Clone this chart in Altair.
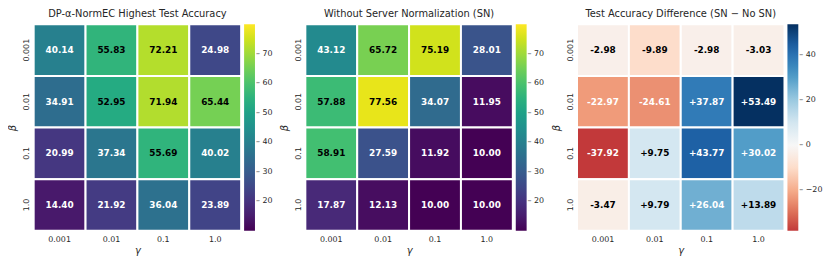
import altair as alt
import pandas as pd

betas = ["0.001", "0.01", "0.1", "1.0"]
gammas = ["0.001", "0.01", "0.1", "1.0"]

acc_normec = [
    [40.14, 55.83, 72.21, 24.98],
    [34.91, 52.95, 71.94, 65.44],
    [20.99, 37.34, 55.69, 40.02],
    [14.40, 21.92, 36.04, 23.89],
]
acc_no_sn = [
    [43.12, 65.72, 75.19, 28.01],
    [57.88, 77.56, 34.07, 11.95],
    [58.91, 27.59, 11.92, 10.00],
    [17.87, 12.13, 10.00, 10.00],
]
acc_diff = [
    [-2.98, -9.89, -2.98, -3.03],
    [-22.97, -24.61, 37.87, 53.49],
    [-37.92, 9.75, 43.77, 30.02],
    [-3.47, 9.79, 26.04, 13.89],
]

titles = [
    "DP-\u03b1-NormEC Highest Test Accuracy",
    "Without Server Normalization (SN)",
    "Test Accuracy Difference (SN \u2212 No SN)",
]
acc_range = [10, 80]
acc_ticks = [20, 30, 40, 50, 60, 70]
diff_ticks = [-20, 0, 20, 40]

RDBU = ["#67001f", "#b2182b", "#d6604d", "#f4a582", "#fddbc7", "#f7f7f7",
        "#d1e5f0", "#92c5de", "#4393c3", "#2166ac", "#053061"]

W, H = 210, 209
TXT = "#262626"


def to_df(mat, signed=False):
    rows = []
    for i, b in enumerate(betas):
        for j, g in enumerate(gammas):
            v = mat[i][j]
            rows.append({"beta": b, "gamma": g, "v": v,
                         "label": f"{v:+.2f}" if signed else f"{v:.2f}"})
    return pd.DataFrame(rows)


def hex2rgb(h):
    return [int(h[k:k + 2], 16) for k in (1, 3, 5)]


def rgb2hex(c):
    return "#" + "".join(f"{int(round(x)):02x}" for x in c)


def centered_rdbu(vals):
    lo, hi = min(vals), max(vals)
    vmax = max(abs(lo), abs(hi))
    n = len(RDBU) - 1
    pos = [-vmax + k * 2 * vmax / n for k in range(n + 1)]
    dom, rng = [], []
    for k in range(n + 1):
        if pos[k] > lo and (not dom):
            t = (lo - pos[k - 1]) / (pos[k] - pos[k - 1])
            a, b = hex2rgb(RDBU[k - 1]), hex2rgb(RDBU[k])
            dom.append(lo)
            rng.append(rgb2hex([a[m] + t * (b[m] - a[m]) for m in range(3)]))
        if pos[k] >= lo:
            dom.append(pos[k])
            rng.append(RDBU[k])
    return dom, rng


def panel(df, title, scale, ticks, test):
    base = alt.Chart(df).encode(
        x=alt.X("gamma:O", sort=gammas,
                scale=alt.Scale(paddingInner=0, paddingOuter=0),
                axis=alt.Axis(title="\u03b3", titleFontStyle="italic",
                              titleFontSize=10, titleFontWeight="normal",
                              titleColor=TXT, titlePadding=2,
                              labelAngle=0, labelFontSize=8, labelColor=TXT,
                              labelPadding=5, ticks=False, domain=False)),
        y=alt.Y("beta:O", sort=betas,
                scale=alt.Scale(paddingInner=0, paddingOuter=0),
                axis=alt.Axis(title="\u03b2", titleFontStyle="italic",
                              titleFontSize=10, titleFontWeight="normal",
                              titleColor=TXT, titlePadding=5,
                              labelAngle=270, labelAlign="center",
                              labelBaseline="bottom", labelFontSize=8,
                              labelColor=TXT, labelPadding=3,
                              ticks=False, domain=False)),
    )
    rect = base.mark_rect(stroke="white", strokeWidth=2).encode(
        color=alt.Color("v:Q", scale=scale,
                        legend=alt.Legend(title=None, orient="right", offset=3,
                                          padding=0, gradientLength=H,
                                          gradientThickness=11,
                                          gradientStrokeWidth=0,
                                          values=ticks, labelFontSize=8,
                                          labelColor=TXT, labelOffset=1,
                                          labelExpr="'\u2013 ' + datum.label"))
    )
    text = base.mark_text(fontWeight="bold", fontSize=9, font="DejaVu Sans").encode(
        text="label:N",
        color=alt.condition(test, alt.value("black"), alt.value("white")),
    )
    return alt.layer(rect, text).properties(
        width=W, height=H,
        title=alt.TitleParams(title, fontSize=10, fontWeight="normal",
                              color=TXT, offset=4),
    )


viridis = alt.Scale(scheme="viridis", domain=acc_range)
flat_diff = [v for row in acc_diff for v in row]
ddom, drng = centered_rdbu(flat_diff)
rdbu = alt.Scale(domain=ddom, range=drng, interpolate="rgb")

p1 = panel(to_df(acc_normec), titles[0], viridis, acc_ticks, "datum.v > 50")
p2 = panel(to_df(acc_no_sn), titles[1], viridis, acc_ticks, "datum.v > 50")
p3 = panel(to_df(acc_diff, signed=True), titles[2], rdbu, diff_ticks,
           "abs(datum.v) < 15")

chart = alt.hconcat(p1, p2, p3, spacing=65, bounds="flush").resolve_scale(
    color="independent"
).properties(
    padding={"left": 0, "top": 0, "right": 0, "bottom": 0}
).configure(font="DejaVu Sans").configure_view(stroke=None)

chart.save("out.html", embed_options={"renderer": "svg", "actions": False})
